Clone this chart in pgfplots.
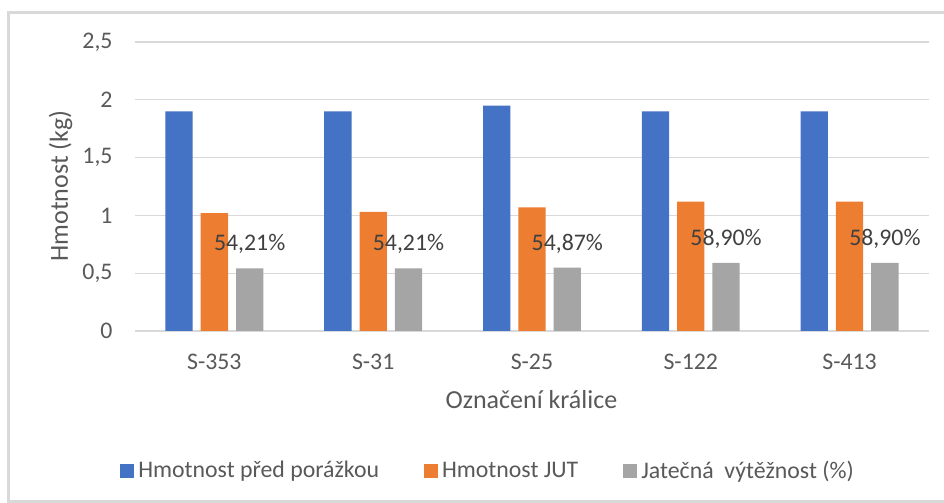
\documentclass[border=0pt]{standalone}
\usepackage{fontspec}
\setmainfont{Carlito}
\usepackage{pgfplots}
\pgfplotsset{compat=1.18}
\definecolor{cBlue}{HTML}{4472C4}
\definecolor{cOrange}{HTML}{ED7D31}
\definecolor{cGray}{HTML}{A5A5A5}
\definecolor{cGrid}{HTML}{D9D9D9}
\definecolor{cText}{HTML}{595959}
\definecolor{cLab}{HTML}{404040}
\begin{document}
\begin{tikzpicture}
\useasboundingbox (0,0) rectangle (472pt,251.5pt);
\draw[cGrid, line width=1.2pt] (4.2pt,0.8pt) rectangle (480pt,245.2pt);
\begin{axis}[
  at={(67.5pt,86pt)}, anchor=south west,
  scale only axis, width=397pt, height=144.5pt,
  ybar=4pt, bar width=13.65pt,
  xmin=-0.5, xmax=4.5, ymin=0, ymax=2.5,
  xtick={0,1,2,3,4},
  xticklabels={S-353,S-31,S-25,S-122,S-413},
  ytick={0,0.5,1,1.5,2,2.5},
  yticklabels={0,{0,5},1,{1,5},2,{2,5}},
  major tick length=0pt,
  axis x line*=bottom, axis y line*=left,
  y axis line style={draw=none},
  x axis line style={cGrid, line width=0.9pt},
  ymajorgrids, grid style={cGrid, line width=0.6pt},
  tick label style={font=\fontsize{11.9}{14}\selectfont, text=cText},
  yticklabel style={anchor=east, xshift=-7.7pt},
  xticklabel style={anchor=north, yshift=-7.8pt},
  /pgf/number format/assume math mode=true,
  legend columns=3,
  legend style={at={(-0.019,-0.4844)}, anchor=west, draw=none, inner sep=0pt,
    font=\fontsize{11.9}{14}\selectfont, text=cText,
    /tikz/every even column/.append style={column sep=20.5pt}},
  legend image code/.code={\fill[#1] (0pt,-3.5pt) rectangle (7pt,3.5pt);},
]
\addplot[fill=cBlue, draw=none] coordinates {(0,1.9) (1,1.9) (2,1.95) (3,1.9) (4,1.9)};
\addlegendentry{Hmotnost před porážkou}
\addplot[fill=cOrange, draw=none] coordinates {(0,1.02) (1,1.03) (2,1.07) (3,1.12) (4,1.12)};
\addlegendentry{Hmotnost JUT}
\addplot[fill=cGray, draw=none,
  point meta={y*100},
  nodes near coords={\pgfmathprintnumber[fixed, fixed zerofill, precision=2, use comma, assume math mode=true]{\pgfplotspointmeta}\%},
  every node near coord/.append style={anchor=base, yshift=8.75pt, font=\fontsize{11.9}{14}\selectfont, text=cLab, inner sep=0pt},
] coordinates {(0,0.5421) (1,0.5421) (2,0.5487) (3,0.589) (4,0.589)};
\addlegendentry{Jatečná~~výtěžnost (\%)}
\end{axis}
\node[rotate=90, anchor=base, font=\fontsize{13}{15}\selectfont, text=cText] at (34pt,158.5pt) {Hmotnost (kg)};
\node[anchor=base, font=\fontsize{13}{15}\selectfont, text=cText] at (265.75pt,47.35pt) {Označení králice};
\end{tikzpicture}
\end{document}
